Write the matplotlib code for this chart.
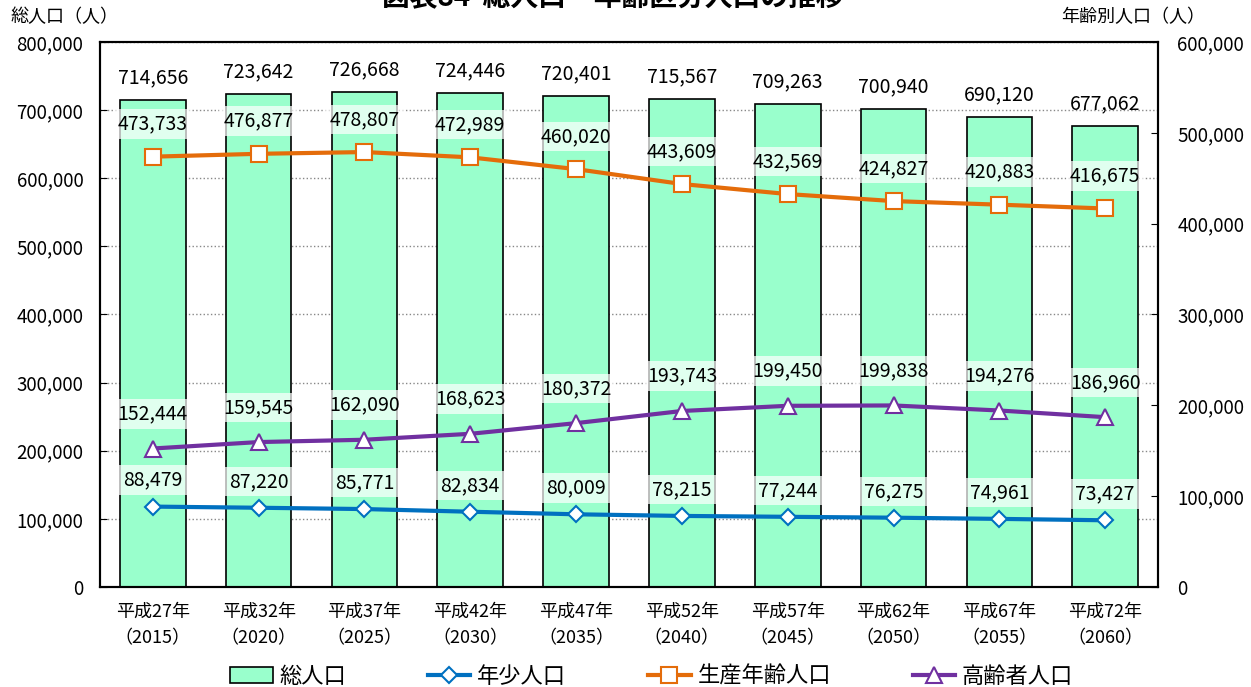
import matplotlib
matplotlib.use("Agg")
import matplotlib.pyplot as plt
import numpy as np

plt.rcParams['font.family'] = ['Noto Sans CJK JP', 'DejaVu Sans']

# 年次（和暦・西暦）
years_jp = ['平成27年', '平成32年', '平成37年', '平成42年', '平成47年',
            '平成52年', '平成57年', '平成62年', '平成67年', '平成72年']
years = ['2015', '2020', '2025', '2030', '2035', '2040', '2045', '2050', '2055', '2060']

total = [714656, 723642, 726668, 724446, 720401, 715567, 709263, 700940, 690120, 677062]
young = [88479, 87220, 85771, 82834, 80009, 78215, 77244, 76275, 74961, 73427]
working = [473733, 476877, 478807, 472989, 460020, 443609, 432569, 424827, 420883, 416675]
elderly = [152444, 159545, 162090, 168623, 180372, 193743, 199450, 199838, 194276, 186960]

fig = plt.figure(figsize=(12.51, 6.87), dpi=100)
ax = fig.add_axes([0.0799, 0.1456, 0.8458, 0.7933])
ax2 = ax.twinx()

x = np.arange(len(years))
bars = ax.bar(x, total, width=0.62, color='#99FFCC', edgecolor='black', linewidth=1.2,
              label='総人口', zorder=2)
ax.set_ylim(0, 800000)
ax.set_xlim(-0.5, len(years) - 0.5)
ax.set_yticks(np.arange(0, 800001, 100000))
ax.set_yticklabels([f'{v:,}' for v in range(0, 800001, 100000)], fontsize=13.5)
ax.yaxis.grid(True, linestyle=':', color='#888888', linewidth=1)
ax.set_axisbelow(True)
ax.set_xticks(x)
ax.set_xticklabels([f'{a}\n（{b}）' for a, b in zip(years_jp, years)], fontsize=13,
                   linespacing=1.65)
ax.tick_params(axis='x', length=0, pad=11)
ax.tick_params(axis='y', direction='in', length=5, pad=12)

for xi, v in zip(x, total):
    ax.annotate(f'{v:,}', (xi, v), xytext=(0, 16), textcoords='offset points',
                ha='center', va='center', fontsize=14)

ax2.set_ylim(0, 600000)
ax2.set_yticks(np.arange(0, 600001, 100000))
ax2.set_yticklabels([f'{v:,}' for v in range(0, 600001, 100000)], fontsize=13.5)
ax2.tick_params(axis='y', direction='in', length=5, pad=14)

series = [
    (young, '#0070C0', 'D', 8, '年少人口', 19),
    (working, '#E46C0A', 's', 11, '生産年齢人口', 23.5),
    (elderly, '#7030A0', '^', 12, '高齢者人口', 25),
]
lines = []
for vals, col, mk, ms, name, off in series:
    ln, = ax2.plot(x, vals, color=col, linewidth=3, marker=mk, markersize=ms,
                   markerfacecolor='white', markeredgecolor=col, markeredgewidth=1.5,
                   label=name, zorder=3)
    lines.append(ln)
    for xi, v in zip(x, vals):
        ax2.annotate(f'{v:,}', (xi, v), xytext=(0, off), textcoords='offset points',
                     ha='center', va='center', fontsize=14,
                     bbox=dict(boxstyle='square,pad=0.22', facecolor='white',
                               edgecolor='none', alpha=0.7))

for sp in ax.spines.values():
    sp.set_linewidth(1.5)
for sp in ax2.spines.values():
    sp.set_linewidth(1.5)

fig.text(0.008, 0.975, '総人口（人）', fontsize=13, ha='left', va='center')
fig.text(0.963, 0.975, '年齢別人口（人）', fontsize=13, ha='right', va='center')
fig.text(0.49, 1.004, '図表84  総人口・年齢区分人口の推移', fontsize=20, ha='center',
         va='center', fontweight='bold')

fig.legend([bars] + lines, ['総人口', '年少人口', '生産年齢人口', '高齢者人口'],
           loc='center', bbox_to_anchor=(0.521, 0.016), ncol=4, frameon=False,
           fontsize=16, handlelength=1.9, columnspacing=3.7, handletextpad=0.3)

fig.savefig('out.png', dpi=100)
